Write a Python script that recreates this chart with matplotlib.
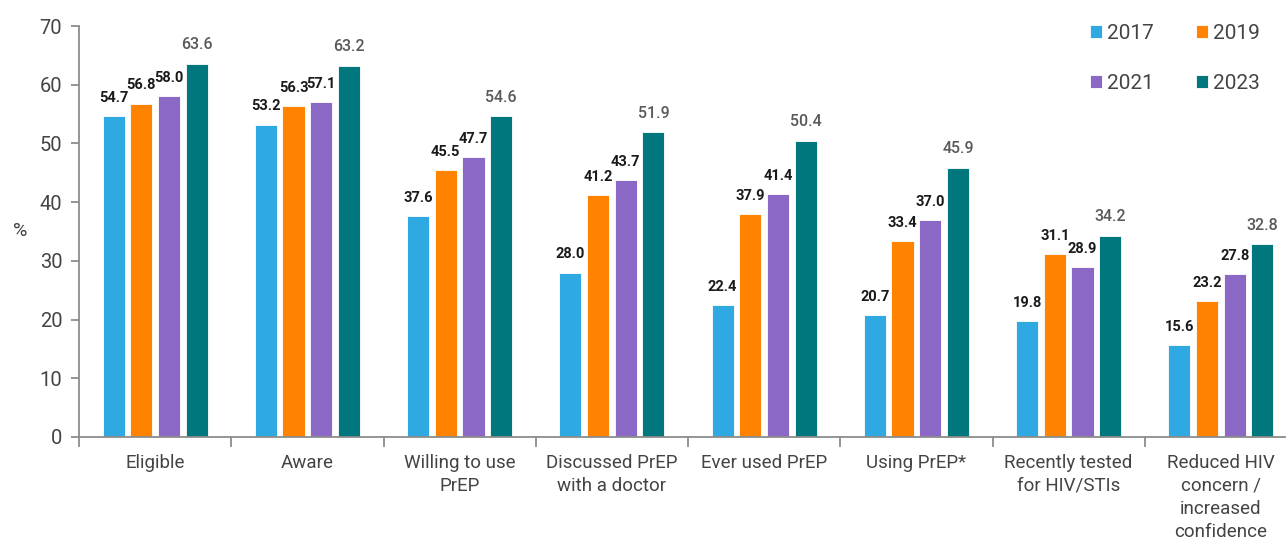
import numpy as np
import matplotlib.pyplot as plt

plt.rcParams['font.family'] = ['Roboto', 'DejaVu Sans']

categories = ["Eligible", "Aware", "Willing to use\nPrEP", "Discussed PrEP\nwith a doctor",
              "Ever used PrEP", "Using PrEP*", "Recently tested\nfor HIV/STIs",
              "Reduced HIV\nconcern /\nincreased\nconfidence"]
years = ["2017", "2019", "2021", "2023"]
v2017 = [54.7, 53.2, 37.6, 28.0, 22.4, 20.7, 19.8, 15.6]
v2019 = [56.8, 56.3, 45.5, 41.2, 37.9, 33.4, 31.1, 23.2]
v2021 = [58.0, 57.1, 47.7, 43.7, 41.4, 37.0, 28.9, 27.8]
v2023 = [63.6, 63.2, 54.6, 51.9, 50.4, 45.9, 34.2, 32.8]
series = [v2017, v2019, v2021, v2023]
colors = ["#2EA9E1", "#FF8200", "#8B68C6", "#00777D"]

fig = plt.figure(figsize=(12.86, 5.39), dpi=100)
ax = fig.add_axes([79 / 1286, 102 / 539, 1218 / 1286, 411 / 539])

x = np.arange(len(categories))
width = 0.145
step = 0.182
bars = []
for i, (vals, col, yr) in enumerate(zip(series, colors, years)):
    pos = x + (i - 1.5) * step
    b = ax.bar(pos, vals, width=width, color=col, edgecolor="white", linewidth=0.6, label=yr, zorder=2)
    bars.append(b)
    for p, v in zip(pos, vals):
        if i == 3:
            ax.text(p, v + 2.0, f"{v:.1f}", ha="center", va="bottom", fontsize=11.5,
                    color="#595959", fontweight="medium")
        else:
            ax.text(p, v + 1.9, f"{v:.1f}", ha="center", va="bottom", fontsize=10.5,
                    color="#1a1a1a", fontweight="bold")

ax.set_xlim(-0.5, len(categories) - 0.5)
ax.set_ylim(0, 70)
ax.set_yticks(range(0, 71, 10))
ax.set_xticks(x)
ax.set_xticklabels(categories, fontsize=13.5, color="#444444", linespacing=1.37)
ax.set_xticks(np.arange(-0.5, len(categories), 1), minor=True)
ax.tick_params(axis="x", which="major", length=0, pad=12)
ax.tick_params(axis="x", which="minor", length=7, color="#8c8c8c", width=1.3)
ax.tick_params(axis="y", length=6, color="#8c8c8c", width=1.3, labelsize=14.5, labelcolor="#444444", pad=6)
ax.set_ylabel("%", fontsize=14, color="#444444", rotation=0, labelpad=14, va="center")
for s in ["top", "right"]:
    ax.spines[s].set_visible(False)
for s in ["left", "bottom"]:
    ax.spines[s].set_color("#8c8c8c")
    ax.spines[s].set_linewidth(1.3)

# row-wise legend: 2017 2019 / 2021 2023
order = [0, 2, 1, 3]
fig.legend([bars[k] for k in order], [years[k] for k in order], ncol=2, loc="upper left",
           bbox_to_anchor=(1090 / 1286, 1 - 24 / 539), frameon=False, borderpad=0, borderaxespad=0,
           handlelength=0.58, handleheight=0.58, handletextpad=0.25,
           columnspacing=2.0, labelspacing=1.5, labelcolor="#444444",
           prop={"size": 15})

fig.savefig("out.png", dpi=100)
